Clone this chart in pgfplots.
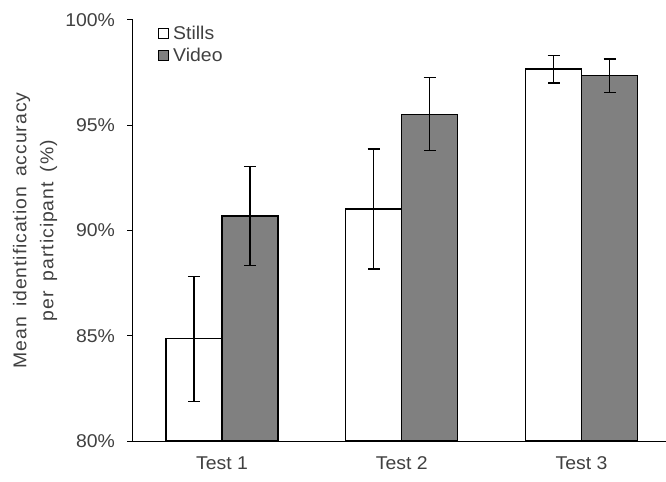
\documentclass[border=0pt]{standalone}
\usepackage{fontspec}
\setmainfont{Liberation Sans}[FakeStretch=1.05]
\newfontfamily\labfont{Liberation Sans}[FakeStretch=1.05, LetterSpace=5, WordSpace=1.6]
\usepackage{pgfplots}
\pgfplotsset{compat=1.18}
\definecolor{txt}{HTML}{404040}
\definecolor{vid}{HTML}{808080}
\begin{document}
\begin{tikzpicture}
\begin{axis}[
  scale only axis,
  width=533bp, height=421bp,
  xmin=-0.495, xmax=2.47,
  ymin=80, ymax=100,
  axis on top,
  axis x line=bottom, axis y line=left,
  axis line style={-, line width=1bp, black},
  ytick={80,85,90,95,100},
  yticklabel={\pgfmathprintnumber{\tick}\%},
  /pgf/number format/assume math mode=true,
  tick align=outside,
  major tick length=5.5bp,
  ytick style={line width=1bp, black},
  xtick={0,1,2},
  xticklabels={Test 1,Test 2,Test 3},
  xtick style={draw=none},
  font=\fontsize{18.5bp}{22bp}\selectfont,
  tick label style={txt},
  yticklabel style={xshift=-9bp},
  xticklabel style={yshift=-7bp},
  ylabel={Mean identification accuracy\\per participant (\%)},
  ylabel style={align=center, txt, font=\labfont\fontsize{18.5bp}{27bp}\selectfont,
    at={(axis description cs:-0.2255,0.5)}, anchor=north, inner sep=0pt},
  ybar=0pt,
  bar width=56bp,
  legend style={draw=none, fill=none, at={(0.047,0.99)}, anchor=north west,
    font=\fontsize{18.5bp}{22bp}\selectfont, text=txt, row sep=3bp,
    inner sep=0pt, nodes={inner sep=2bp}},
  legend cell align=left,
  legend image code/.code={\draw[#1, line width=1bp] (0bp,-5bp) rectangle (10bp,5bp);},
  error bars/error bar style={line width=1.3bp, black},
  error bars/error mark options={rotate=90, mark size=6bp, line width=1.3bp, black},
]
\addplot[draw=black, line width=1.1bp, fill=white,
  error bars/.cd, y dir=both, y explicit]
  coordinates {(0,84.85) +- (0,2.97) (1,91.02) +- (0,2.85) (2,97.67) +- (0,0.66)};
\addplot[draw=black, line width=1.1bp, fill=vid,
  error bars/.cd, y dir=both, y explicit]
  coordinates {(0,90.69) +- (0,2.35) (1,95.53) +- (0,1.73) (2,97.36) +- (0,0.79)};
\legend{\hspace{2bp}Stills, \hspace{2bp}Video}
\end{axis}
\pgfresetboundingbox
\path (current axis.south west) ++(-133bp,-41bp) rectangle ([shift={(0bp,20bp)}]current axis.north east);
\end{tikzpicture}
\end{document}
